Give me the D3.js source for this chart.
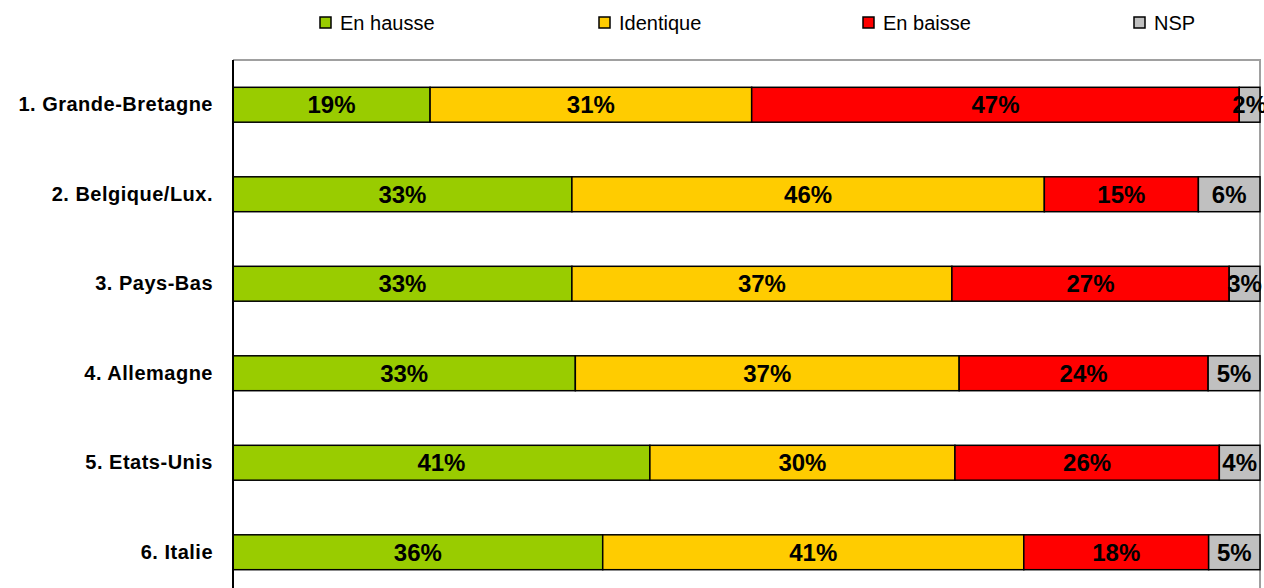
<!DOCTYPE html>
<style type="text/css">
body { margin: 0; background: #fff; }
svg { font-family: Arial, "Liberation Sans", sans-serif; }
</style>
<svg width="1264" height="588"></svg>
<script src="https://d3js.org/d3.v7.min.js"></script>
<script>

// data
var countries = ["1. Grande-Bretagne", "2. Belgique/Lux.", "3. Pays-Bas", "4. Allemagne", "5. Etats-Unis", "6. Italie"];
var series = ["En hausse", "Identique", "En baisse", "NSP"];
var enHausse  = [19, 33, 33, 33, 41, 36];
var identique = [31, 46, 37, 37, 30, 41];
var enBaisse  = [47, 15, 27, 24, 26, 18];
var nsp       = [2, 6, 3, 5, 4, 5];
var colors = ["#99cc00", "#ffcc00", "#ff0000", "#c0c0c0"];

var svg = d3.select("svg"),
		plotLeft = 233, plotRight = 1260, plotTop = 60, plotBottom = 597;

// 100% stacked: normalise each row
var rows = countries.map(function(c, i) {
	var vals = [enHausse[i], identique[i], enBaisse[i], nsp[i]];
	var total = d3.sum(vals), acc = 0;
	return {
		name: c,
		segs: vals.map(function(v, j) {
			var s = { row: c, key: series[j], value: v, x0: acc / total, x1: (acc + v) / total, color: colors[j] };
			acc += v;
			return s;
		})
	};
});

var x = d3.scaleLinear().domain([0, 1]).range([plotLeft, plotRight]);
var y = d3.scaleBand().domain(countries).range([plotTop, plotBottom]).paddingInner(0.61).paddingOuter(0.305);

// plot border (grey top + right)
svg.append("path")
		.attr("d", "M" + plotLeft + "," + plotTop + "H" + plotRight + "V" + 600)
		.attr("fill", "none")
		.attr("stroke", "#a0a0a0")
		.attr("stroke-width", 2);

var row = svg.append("g").selectAll("g")
	.data(rows)
	.enter().append("g");

row.selectAll("rect")
	.data(function(d) { return d.segs; })
	.enter().append("rect")
		.attr("x", function(d) { return x(d.x0); })
		.attr("y", function(d) { return y(d.row); })
		.attr("width", function(d) { return x(d.x1) - x(d.x0); })
		.attr("height", y.bandwidth())
		.attr("fill", function(d) { return d.color; })
		.attr("stroke", "#000")
		.attr("stroke-width", 1.5);

row.selectAll("text")
	.data(function(d) { return d.segs; })
	.enter().append("text")
		.attr("x", function(d) { return (x(d.x0) + x(d.x1)) / 2; })
		.attr("y", function(d) { return y(d.row) + y.bandwidth() / 2; })
		.attr("dy", "0.36em")
		.attr("text-anchor", "middle")
		.attr("font-size", 24)
		.attr("font-weight", "bold")
		.text(function(d) { return d.value + "%"; });

// category axis
svg.append("g")
		.attr("transform", "translate(" + plotLeft + ",0)")
		.call(d3.axisLeft(y).tickSize(0).tickPadding(20))
		.call(function(g) {
			g.select(".domain").attr("stroke", "#000").attr("stroke-width", 2).attr("d", "M0," + plotTop + "V600");
			g.selectAll("text")
				.attr("font-family", "Arial, 'Liberation Sans', sans-serif")
				.attr("font-size", 20)
				.attr("font-weight", "bold")
				.attr("letter-spacing", 0.5)
				.attr("fill", "#000");
		});

// legend
var legendX = [320, 599, 863, 1134];
var legend = svg.append("g").selectAll("g")
	.data(series)
	.enter().append("g")
		.attr("transform", function(d, i) { return "translate(" + legendX[i] + ",17)"; });

legend.append("rect")
		.attr("width", 11)
		.attr("height", 11)
		.attr("fill", function(d, i) { return colors[i]; })
		.attr("stroke", "#000")
		.attr("stroke-width", 1.5);

legend.append("text")
		.attr("x", 20)
		.attr("y", 6)
		.attr("dy", "0.36em")
		.attr("font-size", 20)
		.text(function(d) { return d; });

</script>
